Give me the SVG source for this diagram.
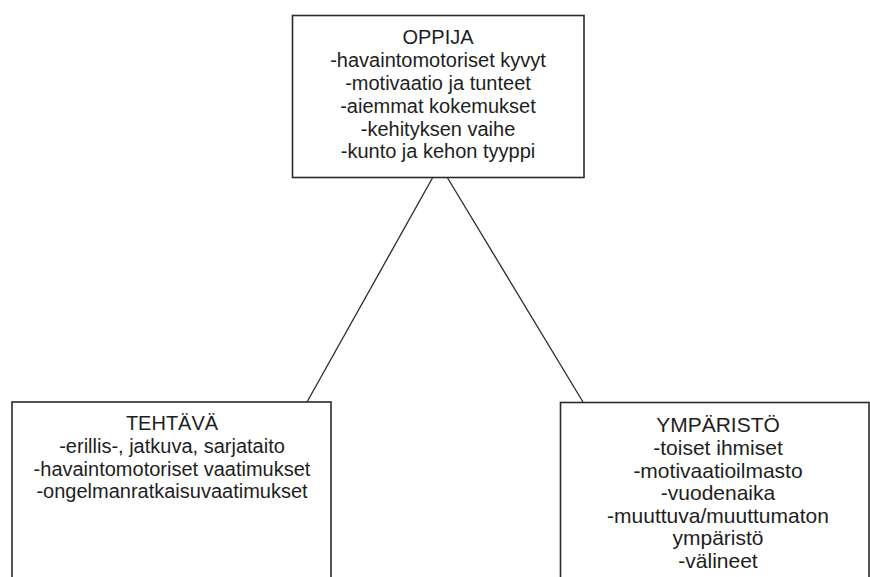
<svg xmlns="http://www.w3.org/2000/svg" width="870" height="577" viewBox="0 0 870 577">
  <style>
    .box { fill: #ffffff; stroke: #2a2a2a; stroke-width: 1.6; }
    .link { stroke: #2a2a2a; stroke-width: 1.3; fill: none; }
    text { font-family: "Liberation Sans", Arial, sans-serif; font-size: 20px; fill: #1e1e1e; text-anchor: middle; }
    .wide text { font-size: 21px; }
  </style>
  <rect x="0" y="0" width="870" height="577" fill="#ffffff"/>

  <!-- connectors -->
  <g id="connectors">
    <line class="link" x1="433" y1="177" x2="307" y2="402"/>
    <line class="link" x1="447" y1="177" x2="583" y2="402"/>
  </g>

  <!-- learner -->
  <g id="oppija">
    <rect class="box" x="292.5" y="15.5" width="291.5" height="162"/>
    <text x="438" y="44">OPPIJA</text>
    <text x="438" y="67">-havaintomotoriset kyvyt</text>
    <text x="438" y="90">-motivaatio ja tunteet</text>
    <text x="438" y="113">-aiemmat kokemukset</text>
    <text x="438" y="136">-kehityksen vaihe</text>
    <text x="438" y="158">-kunto ja kehon tyyppi</text>
  </g>

  <!-- task -->
  <g id="tehtava">
    <rect class="box" x="12" y="402" width="319" height="190"/>
    <text x="172" y="430">TEHTÄVÄ</text>
    <text x="172" y="453">-erillis-, jatkuva, sarjataito</text>
    <text x="172" y="475.5">-havaintomotoriset vaatimukset</text>
    <text x="172" y="498">-ongelmanratkaisuvaatimukset</text>
  </g>

  <!-- environment -->
  <g id="ymparisto" class="wide">
    <rect class="box" x="560.5" y="402.5" width="308.5" height="190"/>
    <text x="718" y="432">YMPÄRISTÖ</text>
    <text x="718" y="455">-toiset ihmiset</text>
    <text x="718" y="477.5">-motivaatioilmasto</text>
    <text x="718" y="500">-vuodenaika</text>
    <text x="718" y="522.5">-muuttuva/muuttumaton</text>
    <text x="718" y="545">ympäristö</text>
    <text x="718" y="567.5">-välineet</text>
  </g>
</svg>
